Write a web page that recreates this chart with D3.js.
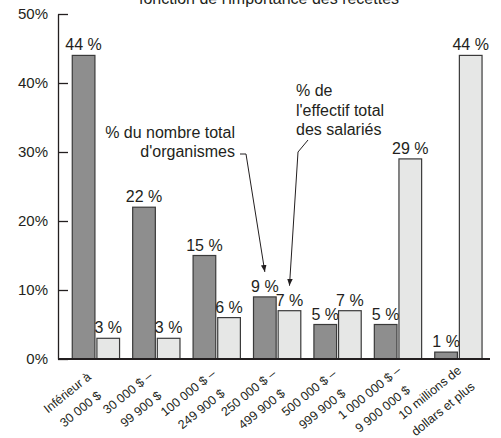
<!DOCTYPE html>
<html>
<head>
<meta charset="utf-8">
<script src="https://cdn.jsdelivr.net/npm/d3@7"></script>
<style>
  body { margin: 0; background: #fff; }
  svg { display: block; font-family: "Liberation Sans Narrow", "Arial Narrow", "Liberation Sans", sans-serif; }
</style>
</head>
<body>
<svg id="chart" width="501" height="438"></svg>
<script>
var categories = [
    ['Inférieur à', '30 000 $'],
    ['30 000 $ –', '99 900 $'],
    ['100 000 $ –', '249 900 $'],
    ['250 000 $ –', '499 900 $'],
    ['500 000 $ –', '999 900 $'],
    ['1 000 000 $ –', '9 900 000 $'],
    ['10 millions de', 'dollars et plus']
];
var series = ['organismes', 'salaries'];
var organismes = [44, 22, 15, 9, 5, 5, 1];
var salaries = [3, 3, 6, 7, 7, 29, 44];
var yTicks = [0, 10, 20, 30, 40, 50];
var title = "fonction de l'importance des recettes";

var svg = d3.select('#chart');
var ink = '#231f20';
var colors = { organismes: '#8e8e8e', salaries: '#e6e7e6' };

var data = categories.map(function (c, i) {
    return { key: i, label: c, organismes: organismes[i], salaries: salaries[i] };
});

var x0 = d3.scaleBand().domain(d3.range(categories.length))
    .range([63.8, 490.5]).paddingInner(0.217).paddingOuter(0.14);
var x1 = d3.scaleBand().domain(series).range([0, x0.bandwidth()]).paddingInner(0.08);
var y = d3.scaleLinear().domain([0, 50]).range([359, 14]);

// title, only its last line shows at the top edge
svg.append('text')
    .attr('x', 269).attr('y', 4)
    .attr('text-anchor', 'middle')
    .attr('font-size', 16).attr('fill', ink)
    .text(title);

// y axis, ticks pointing inward
var yAxis = d3.axisLeft(y)
    .tickValues(yTicks)
    .tickSizeInner(-10).tickSizeOuter(0).tickPadding(10)
    .tickFormat(function (d) { return d + '%'; });

var gy = svg.append('g').attr('transform', 'translate(58,0)').call(yAxis);
gy.select('.domain').attr('stroke', ink).attr('stroke-width', 1.3);
gy.selectAll('.tick line').attr('stroke', ink).attr('stroke-width', 1.3);
gy.selectAll('.tick text').attr('font-size', 15).attr('fill', ink);
gy.attr('font-family', null);

// bars
var groups = svg.append('g').selectAll('g').data(data).enter().append('g')
    .attr('transform', function (d) { return 'translate(' + x0(d.key) + ',0)'; });

var bars = groups.selectAll('g').data(function (d) {
    return series.map(function (s) { return { s: s, v: d[s] }; });
}).enter().append('g');

bars.append('rect')
    .attr('x', function (d) { return x1(d.s); })
    .attr('y', function (d) { return y(d.v); })
    .attr('width', x1.bandwidth())
    .attr('height', function (d) { return y(0) - y(d.v); })
    .attr('fill', function (d) { return colors[d.s]; })
    .attr('stroke', '#3a3a3a').attr('stroke-width', 1.2);

bars.append('text')
    .attr('x', function (d) { return x1(d.s) + x1.bandwidth() / 2; })
    .attr('y', function (d) { return y(d.v) - 5; })
    .attr('text-anchor', 'middle')
    .attr('font-size', 16).attr('fill', ink)
    .text(function (d) { return d.v + ' %'; });

// baseline
svg.append('line')
    .attr('x1', 58).attr('x2', 490)
    .attr('y1', y(0)).attr('y2', y(0))
    .attr('stroke', ink).attr('stroke-width', 2);

// category labels, rotated, two centred lines each
var labels = svg.append('g').selectAll('text').data(data).enter().append('text')
    .attr('transform', function (d) {
        var cx = x0(d.key) + x0.bandwidth() / 2;
        return 'translate(' + (cx - 26) + ',' + (y(0) + 37) + ') rotate(-39)';
    })
    .attr('text-anchor', 'middle')
    .attr('font-size', 12.5).attr('fill', ink);

labels.each(function (d) {
    var t = d3.select(this);
    t.append('tspan').attr('x', 0).attr('y', 0).text(d.label[0]);
    t.append('tspan').attr('x', 0).attr('y', 21).text(d.label[1]);
});

// annotations
var defs = svg.append('defs');
defs.append('marker').attr('id', 'arrow')
    .attr('viewBox', '0 0 10 10').attr('refX', 10).attr('refY', 5)
    .attr('markerWidth', 7).attr('markerHeight', 7).attr('orient', 'auto')
    .append('path').attr('d', 'M0,1 L10,5 L0,9 Z').attr('fill', ink);

var tipOrg = [x0(3) + x1('organismes') + x1.bandwidth() / 2, y(organismes[3]) - 25];
var tipSal = [x0(3) + x1('salaries') + x1.bandwidth() / 2, y(salaries[3]) - 25];

var note1 = svg.append('text').attr('text-anchor', 'end')
    .attr('font-size', 16).attr('fill', ink);
note1.append('tspan').attr('x', 235).attr('y', 138).text('% du nombre total');
note1.append('tspan').attr('x', 235).attr('y', 157).text("d'organismes");

var note2 = svg.append('text').attr('font-size', 16).attr('fill', ink);
note2.append('tspan').attr('x', 296).attr('y', 96).text('% de');
note2.append('tspan').attr('x', 296).attr('y', 116).text("l'effectif total");
note2.append('tspan').attr('x', 296).attr('y', 135).text('des salariés');

var line = d3.line();
svg.append('path')
    .attr('d', line([[240, 154], [246, 154], tipOrg]))
    .attr('fill', 'none').attr('stroke', ink).attr('stroke-width', 1)
    .attr('marker-end', 'url(#arrow)');
svg.append('path')
    .attr('d', line([[308, 140], [298, 152], tipSal]))
    .attr('fill', 'none').attr('stroke', ink).attr('stroke-width', 1)
    .attr('marker-end', 'url(#arrow)');
</script>
</body>
</html>
